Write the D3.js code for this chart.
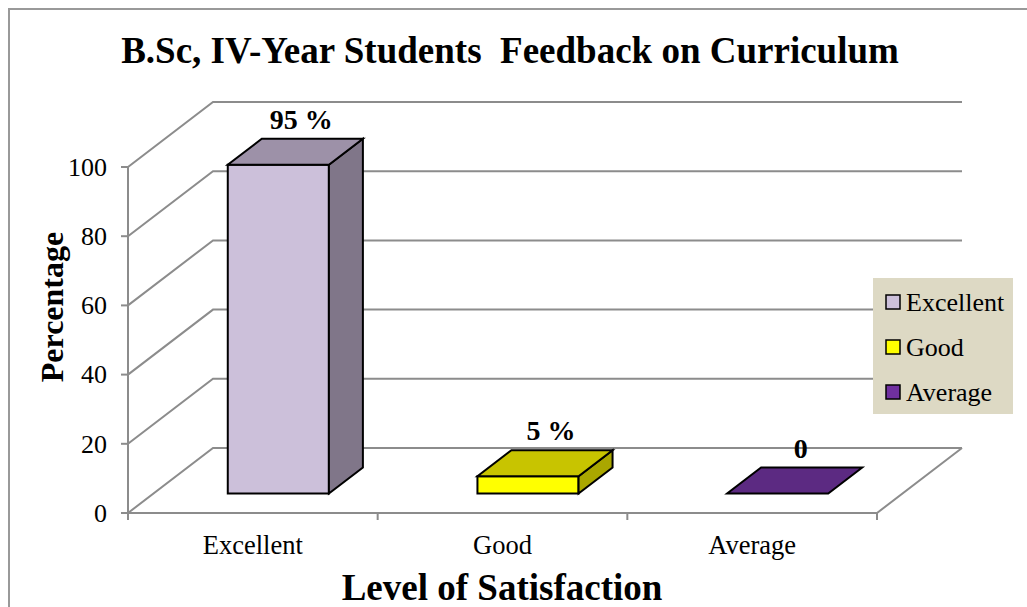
<!DOCTYPE html>
<meta charset="utf-8">
<head>
    <script src="https://d3js.org/d3.v7.min.js"></script>
    <style>
    body { margin: 0; background: #fff; }
    text { font-family: "Liberation Serif", "Times New Roman", serif; fill: #000; }
    .grid { stroke: #8c8c8c; stroke-width: 2; fill: none; }
    .face { stroke: #000; stroke-width: 2; stroke-linejoin: miter; }
    </style>
</head>
<body>
    <script>
    // data
    var categories = ["Excellent", "Good", "Average"];
    var values = [95, 5, 0];
    var valueLabels = ["95 %", "5 %", "0"];
    var yTicks = [0, 20, 40, 60, 80, 100];
    var frontColors = ["#ccc0da", "#ffff00", "#5c2a82"];
    var topColors = ["#9d91a8", "#c8c400", "#5c2a82"];
    var sideColors = ["#807689", "#aaa700", "#4a2268"];
    var legendColors = ["#ccc0da", "#ffff00", "#7030a0"];

    var W = 1027, H = 607;

    // plot frame (front plane) and the 3d depth of the floor
    var plotLeft = 128, plotRight = 877, plotBottom = 513, plotTop = 167;
    var depthX = 85, depthY = -65;
    var barFrom = 0.3, barTo = 0.7, barWidthRatio = 0.405;

    var x = d3.scaleBand()
        .domain(categories)
        .range([plotLeft, plotRight])
        .padding(0);
    var y = d3.scaleLinear()
        .domain([0, 100])
        .range([plotBottom, plotTop]);

    var svg = d3.select("body").append("svg")
        .attr("width", W)
        .attr("height", H);

    // outer chart border (only left and top show in the crop)
    svg.append("path")
        .attr("d", "M9," + H + " L9,9 L" + W + ",9")
        .attr("fill", "none")
        .attr("stroke", "#999")
        .attr("stroke-width", 2);

    // title
    svg.append("text")
        .attr("x", 510)
        .attr("y", 63)
        .attr("text-anchor", "middle")
        .style("font-size", "37px")
        .style("font-weight", "bold")
        .style("white-space", "pre")
        .text("B.Sc, IV-Year Students  Feedback on Curriculum");

    /*** walls and gridlines ***/
    var grid = svg.append("g");
    yTicks.forEach(function(t) {
        // side wall diagonal + back wall line
        grid.append("path")
            .attr("class", "grid")
            .attr("d", "M" + plotLeft + "," + y(t) +
                " L" + (plotLeft + depthX) + "," + (y(t) + depthY) +
                " L" + (plotRight + depthX) + "," + (y(t) + depthY));
    });
    // floor: front edge and right edge
    grid.append("path")
        .attr("class", "grid")
        .attr("d", "M" + plotLeft + "," + plotBottom +
            " L" + plotRight + "," + plotBottom +
            " L" + (plotRight + depthX) + "," + (plotBottom + depthY));

    // y axis line and ticks
    grid.append("line")
        .attr("class", "grid")
        .attr("x1", plotLeft).attr("x2", plotLeft)
        .attr("y1", y(100)).attr("y2", plotBottom + 7);
    yTicks.forEach(function(t) {
        grid.append("line")
            .attr("class", "grid")
            .attr("x1", plotLeft - 7).attr("x2", plotLeft)
            .attr("y1", y(t)).attr("y2", y(t));
        svg.append("text")
            .attr("x", plotLeft - 21)
            .attr("y", y(t))
            .attr("dy", "0.34em")
            .attr("text-anchor", "end")
            .style("font-size", "26px")
            .text(t);
    });

    // category ticks
    var catEdges = categories.map(function(c) { return x(c); }).concat([plotRight]);
    catEdges.forEach(function(e) {
        grid.append("line")
            .attr("class", "grid")
            .attr("x1", e).attr("x2", e)
            .attr("y1", plotBottom).attr("y2", plotBottom + 7);
    });
    categories.forEach(function(c) {
        svg.append("text")
            .attr("x", x(c) + x.bandwidth() / 2)
            .attr("y", 554)
            .attr("text-anchor", "middle")
            .style("font-size", "26.5px")
            .text(c);
    });

    /*** 3d bars ***/
    var bw = x.bandwidth() * barWidthRatio;
    var bdx = (barTo - barFrom) * depthX, bdy = (barTo - barFrom) * depthY;
    function pts(a) { return a.map(function(p) { return p.join(","); }).join(" "); }

    categories.forEach(function(c, i) {
        var cx = x(c) + x.bandwidth() / 2 + barFrom * depthX;
        var x0 = cx - bw / 2, x1 = cx + bw / 2;
        var yb = plotBottom + barFrom * depthY;
        var yt = yb - (plotBottom - y(values[i]));
        var g = svg.append("g");
        if (values[i] > 0) {
            g.append("polygon").attr("class", "face")
                .attr("fill", frontColors[i])
                .attr("points", pts([[x0, yt], [x1, yt], [x1, yb], [x0, yb]]));
            g.append("polygon").attr("class", "face")
                .attr("fill", sideColors[i])
                .attr("points", pts([[x1, yt], [x1 + bdx, yt + bdy], [x1 + bdx, yb + bdy], [x1, yb]]));
        }
        g.append("polygon").attr("class", "face")
            .attr("fill", topColors[i])
            .attr("points", pts([[x0, yt], [x1, yt], [x1 + bdx, yt + bdy], [x0 + bdx, yt + bdy]]));

        // value label
        svg.append("text")
            .attr("x", cx + bdx / 2 + 6)
            .attr("y", yt + bdy - 10)
            .attr("text-anchor", "middle")
            .style("font-size", "28px")
            .style("font-weight", "bold")
            .text(valueLabels[i]);
    });

    /*** axis titles ***/
    svg.append("text")
        .attr("x", 502)
        .attr("y", 600)
        .attr("text-anchor", "middle")
        .style("font-size", "37px")
        .style("font-weight", "bold")
        .text("Level of Satisfaction");
    svg.append("text")
        .attr("transform", "translate(63,307) rotate(-90)")
        .attr("text-anchor", "middle")
        .style("font-size", "32px")
        .style("font-weight", "bold")
        .text("Percentage");

    /*** legend ***/
    var legend = svg.append("g");
    legend.append("rect")
        .attr("x", 873).attr("y", 278)
        .attr("width", 140).attr("height", 136)
        .attr("fill", "#ddd9c4");
    categories.forEach(function(c, i) {
        var cy = 302 + i * 45;
        legend.append("rect")
            .attr("x", 886).attr("y", cy - 7)
            .attr("width", 14).attr("height", 14)
            .attr("fill", legendColors[i])
            .attr("stroke", "#000")
            .attr("stroke-width", 1.5);
        legend.append("text")
            .attr("x", 906)
            .attr("y", cy)
            .attr("dy", "0.34em")
            .style("font-size", "26px")
            .text(c);
    });
    </script>
</body>
</html>
